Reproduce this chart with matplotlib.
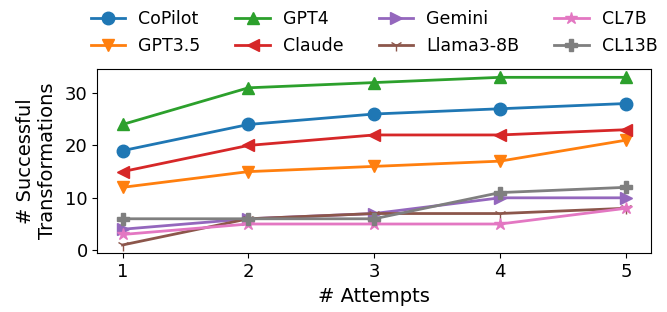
import matplotlib
matplotlib.use("Agg")
import matplotlib.pyplot as plt

attempts = [1, 2, 3, 4, 5]
copilot = [19, 24, 26, 27, 28]
gpt35 = [12, 15, 16, 17, 21]
gpt4 = [24, 31, 32, 33, 33]
claude = [15, 20, 22, 22, 23]
gemini = [4, 6, 7, 10, 10]
llama = [1, 6, 7, 7, 8]
cl7b = [3, 5, 5, 5, 8]
cl13b = [6, 6, 6, 11, 12]

series = [
    ("CoPilot", copilot, "o"),
    ("GPT3.5", gpt35, "v"),
    ("GPT4", gpt4, "^"),
    ("Claude", claude, "<"),
    ("Gemini", gemini, ">"),
    ("Llama3-8B", llama, "1"),
    ("CL7B", cl7b, "*"),
    ("CL13B", cl13b, "P"),
]

fig, ax = plt.subplots(figsize=(6.67, 3.12), dpi=100)

for name, vals, mk in series:
    ax.plot(attempts, vals, marker=mk, markersize=9, linewidth=2, label=name)

ax.set_xticks(attempts)
ax.set_yticks([0, 10, 20, 30])
ax.tick_params(labelsize=13)
ax.set_xlabel("# Attempts", fontsize=14)
ax.set_ylabel("# Successful\nTransformations", fontsize=14, labelpad=6)

ax.legend(loc="lower center", bbox_to_anchor=(0.5, 1.0), ncol=4, frameon=False,
          fontsize=12.5, columnspacing=2.0, handlelength=2, borderaxespad=0.4,
          labelspacing=0.5, handletextpad=0.75)

fig.subplots_adjust(left=0.146, right=0.976, top=0.779, bottom=0.188)
fig.savefig("out.png", dpi=100)
